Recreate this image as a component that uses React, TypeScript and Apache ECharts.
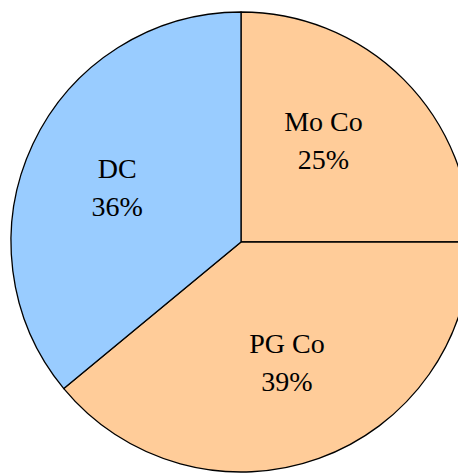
import React, { useEffect, useRef } from "react";
import * as echarts from "echarts";

const categories = ["Mo Co", "PG Co", "DC"];
const values = [25, 39, 36];
const colors = ["#FFCC99", "#FFCC99", "#99CCFF"];
const labelOffsets: [number, number][] = [
  [-1, -18],
  [6, 9],
  [-17, -4],
];

export default function App() {
  const ref = useRef<HTMLDivElement>(null);
  useEffect(() => {
    if (!ref.current) return;
    const chart = echarts.init(ref.current, undefined, { renderer: "svg" });
    chart.setOption({
      animation: false,
      backgroundColor: "#ffffff",
      series: [
        {
          type: "pie",
          center: [241, 242],
          radius: 230,
          startAngle: 90,
          clockwise: true,
          silent: true,
          itemStyle: { borderColor: "#000000", borderWidth: 1.3 },
          label: {
            show: true,
            position: "inside",
            formatter: (p: any) => `${p.name}\n${p.value}%`,
            fontFamily: "'Liberation Serif', 'Times New Roman', serif",
            fontSize: 28,
            lineHeight: 38,
            color: "#000000",
            align: "center",
          },
          labelLine: { show: false },
          data: categories.map((name, i) => ({
            name,
            value: values[i],
            itemStyle: { color: colors[i] },
            label: { offset: labelOffsets[i] },
          })),
        },
      ],
    });
    return () => chart.dispose();
  }, []);
  return (
    <div
      ref={ref}
      style={{ position: "absolute", left: 0, top: 0, width: 458, height: 475 }}
    />
  );
}
